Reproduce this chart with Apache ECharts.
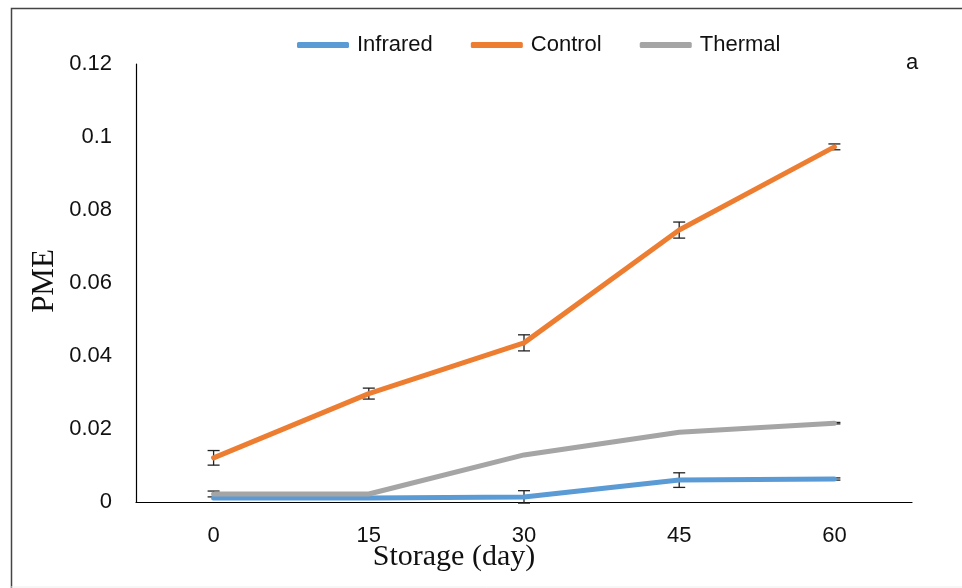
<!DOCTYPE html>
<html>
<head>
<meta charset="utf-8">
<script src="https://cdn.jsdelivr.net/npm/echarts@6/dist/echarts.min.js"></script>
<style>
html,body{margin:0;padding:0;background:#fff;}
#chart{width:962px;height:588px;}
</style>
</head>
<body>
<div id="chart"></div>
<script>
var categories = ['0', '15', '30', '45', '60'];
var infrared = [0.0011, 0.0011, 0.0014, 0.0060, 0.0063];
var infraredErr = [0.0000, 0.0000, 0.0017, 0.0020, 0.0003];
var control = [0.0121, 0.0297, 0.0436, 0.0745, 0.0973];
var controlErr = [0.0020, 0.0015, 0.0022, 0.0022, 0.0008];
var thermal = [0.0022, 0.0022, 0.0129, 0.0191, 0.0216];
var thermalErr = [0.0008, 0.0000, 0.0000, 0.0000, 0.0002];
var yTicks = [0, 0.02, 0.04, 0.06, 0.08, 0.1, 0.12];

var chart = echarts.init(document.getElementById('chart'));

function errData(vals, errs) {
  return vals.map(function (v, i) { return [i, v - errs[i], v + errs[i]]; });
}
function errRender(params, api) {
  var x = api.value(0);
  var lo = api.coord([x, api.value(1)]);
  var hi = api.coord([x, api.value(2)]);
  if (Math.abs(hi[1] - lo[1]) < 1) return null;
  var w = 6;
  var style = { stroke: '#222', lineWidth: 1.3 };
  return {
    type: 'group',
    children: [
      { type: 'line', shape: { x1: lo[0], y1: hi[1], x2: lo[0], y2: lo[1] }, style: style },
      { type: 'line', shape: { x1: lo[0] - w, y1: hi[1], x2: lo[0] + w, y2: hi[1] }, style: style },
      { type: 'line', shape: { x1: lo[0] - w, y1: lo[1], x2: lo[0] + w, y2: lo[1] }, style: style }
    ]
  };
}

var colors = { Infrared: '#5B9BD5', Control: '#ED7D31', Thermal: '#A5A5A5' };

function lineSeries(name, data) {
  return {
    name: name, type: 'line', data: data, symbol: 'none', z: 3,
    lineStyle: { width: 5, color: colors[name], cap: 'round', join: 'round' },
    itemStyle: { color: colors[name] }
  };
}
function errSeries(vals, errs) {
  return {
    type: 'custom', renderItem: errRender, data: errData(vals, errs), z: 2,
    silent: true, encode: { x: 0, y: [1, 2] }
  };
}

chart.setOption({
  animation: false,
  grid: { left: 136, right: 50, top: 64, bottom: 86 },
  legend: {
    data: ['Infrared', 'Control', 'Thermal'],
    top: 29, left: 292,
    itemWidth: 52, itemHeight: 6, itemGap: 38,
    icon: 'roundRect',
    textStyle: { fontFamily: 'Liberation Sans', fontSize: 22, color: '#111', padding: [0, 0, 0, 3] }
  },
  xAxis: {
    type: 'category', data: categories, boundaryGap: true,
    axisLine: { lineStyle: { color: '#000', width: 1.2 } },
    axisTick: { show: false },
    axisLabel: { fontFamily: 'Liberation Sans', fontSize: 22, color: '#111', margin: 23 },
    splitLine: { show: false }
  },
  yAxis: {
    type: 'value', min: 0, max: 0.12, interval: 0.02,
    axisLine: { show: true, lineStyle: { color: '#000', width: 1.2 } },
    axisTick: { show: false },
    splitLine: { show: false },
    axisLabel: {
      fontFamily: 'Liberation Sans', fontSize: 22, color: '#111', margin: 24,
      formatter: function (v) {
        for (var i = 0; i < yTicks.length; i++) {
          if (Math.abs(yTicks[i] - v) < 1e-9) return String(yTicks[i]);
        }
        return '';
      }
    }
  },
  graphic: [
    { type: 'rect', shape: { x: 11.5, y: 8.5, width: 1000, height: 700 }, style: { fill: 'none', stroke: '#444', lineWidth: 1.5 }, z: -1 },
    { type: 'line', shape: { x1: 11, y1: 587, x2: 962, y2: 587 }, style: { stroke: '#eee', lineWidth: 1 } },
    { type: 'text', left: 906, top: 52, style: { text: 'a', font: '22px "Liberation Sans"', fill: '#111' } },
    { type: 'text', x: 45, y: 281, rotation: Math.PI / 2, style: { text: 'PME', font: '31px "Liberation Serif"', fill: '#111', align: 'center', verticalAlign: 'middle' } },
    { type: 'text', x: 454, y: 557, style: { text: 'Storage (day)', font: '30px "Liberation Serif"', fill: '#111', align: 'center', verticalAlign: 'middle' } }
  ],
  series: [
    lineSeries('Infrared', infrared),
    lineSeries('Control', control),
    lineSeries('Thermal', thermal),
    errSeries(infrared, infraredErr),
    errSeries(control, controlErr),
    errSeries(thermal, thermalErr)
  ]
});
</script>
</body>
</html>
